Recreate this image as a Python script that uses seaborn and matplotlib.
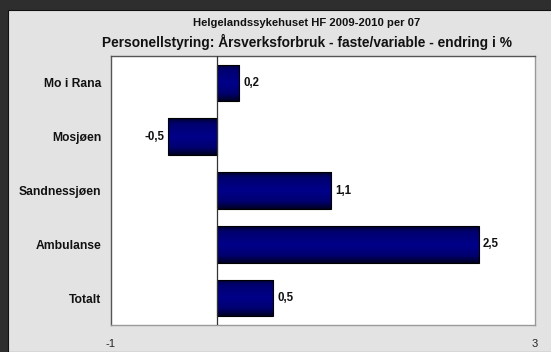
import matplotlib
matplotlib.use("Agg")
import matplotlib.pyplot as plt
from matplotlib.patches import Rectangle
from matplotlib.colors import LinearSegmentedColormap
import seaborn as sns
import numpy as np
import pandas as pd

categories = ["Mo i Rana", "Mosjøen", "Sandnessjøen", "Ambulanse", "Totalt"]
values = [0.21, -0.46, 1.08, 2.47, 0.53]
x_ticks = [-1, 3]
title_top = "Helgelandssykehuset HF 2009-2010 per 07"
title_main = "Personellstyring: Årsverksforbruk - faste/variable - endring i %"

sns.set_theme(style="white")
plt.rcParams['font.family'] = ['Liberation Sans', 'DejaVu Sans']

W, H = 551, 352
fig = plt.figure(figsize=(W / 100, H / 100), dpi=100)
fig.patch.set_facecolor('#2e2e2e')
fig.patches.append(Rectangle((8 / W, 0), 1, (H - 10) / H, transform=fig.transFigure,
                             facecolor='#e3e3e3', edgecolor='#111111', lw=0.8, zorder=-5))

ax = fig.add_axes([111 / W, (H - 325) / H, (535 - 111) / W, (325 - 56) / H])
ax.set_zorder(2)
ax.set_facecolor('white')
df = pd.DataFrame({"category": categories, "value": values})
sns.barplot(data=df, x="value", y="category", orient="h", color="#000080",
            width=0.68, edgecolor='black', linewidth=0.8, ax=ax, zorder=2)

cmap = LinearSegmentedColormap.from_list(
    "bar", [(0.0, "#000030"), (0.15, "#000070"), (0.5, "#00008a"), (0.8, "#000070"), (1.0, "#000024")])
grad = np.linspace(0, 1, 64).reshape(-1, 1)
for p in list(ax.patches):
    x0, y0 = p.get_x(), p.get_y()
    w, h = p.get_width(), p.get_height()
    im = ax.imshow(grad, cmap=cmap, aspect='auto', extent=[x0, x0 + w, y0 + h, y0],
                   zorder=2.5, interpolation='bilinear')
    im.set_clip_path(p)
    p.set_facecolor('none')
    p.set_zorder(3)

ax.set_xlim(-1, 3)
ax.set_ylim(4.5, -0.5)
ax.set_xticks(x_ticks)
ax.set_xticklabels([str(t) for t in x_ticks])
ax.tick_params(axis='x', length=0, pad=10, labelsize=8, colors='#222222')
ax.tick_params(axis='y', length=0, pad=7, labelsize=8.7, colors='#111111')
for lab in ax.get_yticklabels():
    lab.set_fontweight('bold')
ax.set_xlabel("")
ax.set_ylabel("")
ax.axvline(0, color='#333333', lw=0.9, zorder=4)

for side, col in [('left', '#555555'), ('top', '#555555'), ('right', '#999999'), ('bottom', '#999999')]:
    ax.spines[side].set_visible(True)
    ax.spines[side].set_color(col)
    ax.spines[side].set_linewidth(1.0)

container = ax.containers[0]
labels = [f"{v:.1f}".replace('.', ',') for v in values]
ax.bar_label(container, labels=labels, padding=3, fontsize=8.3, fontweight='bold', color='#111111')

fig.text(307 / W, 1 - 23 / H, title_top, ha='center', va='center', fontsize=8.1, fontweight='bold', color='#111111')
fig.text(307 / W, 1 - 42 / H, title_main, ha='center', va='center', fontsize=9.9, fontweight='bold', color='#111111')

fig.savefig("out.png", dpi=100, facecolor=fig.get_facecolor())
